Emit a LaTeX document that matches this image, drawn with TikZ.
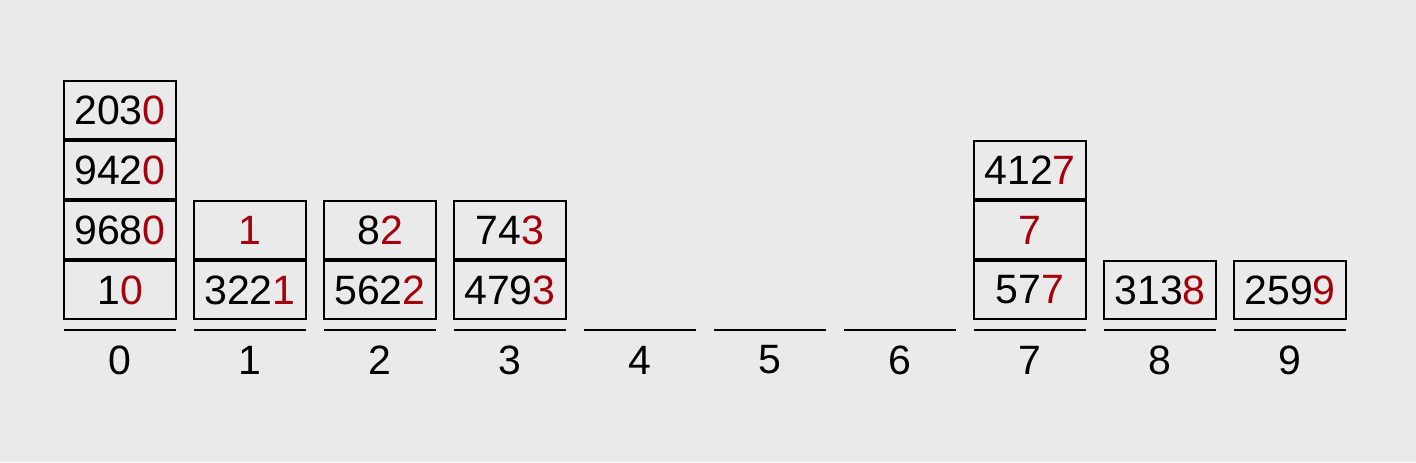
\documentclass[tikz,border=0pt]{standalone}
\usepackage{fontspec}
\setmainfont{Liberation Sans}
\usetikzlibrary{positioning}

\definecolor{digitred}{RGB}{165,0,12}
\definecolor{paper}{RGB}{234,234,234}
\newcommand{\rd}[1]{\textcolor{digitred}{#1}}

\begin{document}
\begin{tikzpicture}[x=0.5pt, y=-0.5pt,
  cell/.style={draw, line width=1pt, minimum width=56pt, minimum height=29pt,
    inner sep=0pt, font=\fontsize{20.5}{24}\selectfont},
  bucket/.style={inner sep=0pt, font=\fontsize{20.5}{24}\selectfont}]
  % Background
  \fill[paper] (0,0) rectangle (1416,462);

  % Bucket base lines and labels
  \foreach \i in {0,...,9} {
    \draw[line width=1pt] (64+130*\i,330) -- (176+130*\i,330);
    \node[bucket] (lab\i) at (120+130*\i,360) {\i};
  }

  % Bucket 0
  \node[cell] (c0a) at (120,290) {1\rd{0}};
  \node[cell, above=0pt of c0a] (c0b) {968\rd{0}};
  \node[cell, above=0pt of c0b] (c0c) {942\rd{0}};
  \node[cell, above=0pt of c0c] (c0d) {203\rd{0}};

  % Bucket 1
  \node[cell] (c1a) at (250,290) {322\rd{1}};
  \node[cell, above=0pt of c1a] (c1b) {\rd{1}};

  % Bucket 2
  \node[cell] (c2a) at (380,290) {562\rd{2}};
  \node[cell, above=0pt of c2a] (c2b) {8\rd{2}};

  % Bucket 3
  \node[cell] (c3a) at (510,290) {479\rd{3}};
  \node[cell, above=0pt of c3a] (c3b) {74\rd{3}};

  % Bucket 7
  \node[cell] (c7a) at (1030,290) {57\rd{7}};
  \node[cell, above=0pt of c7a] (c7b) {\rd{7}};
  \node[cell, above=0pt of c7b] (c7c) {412\rd{7}};

  % Buckets 8 and 9
  \node[cell] (c8a) at (1160,290) {313\rd{8}};
  \node[cell] (c9a) at (1290,290) {259\rd{9}};
\end{tikzpicture}
\end{document}
